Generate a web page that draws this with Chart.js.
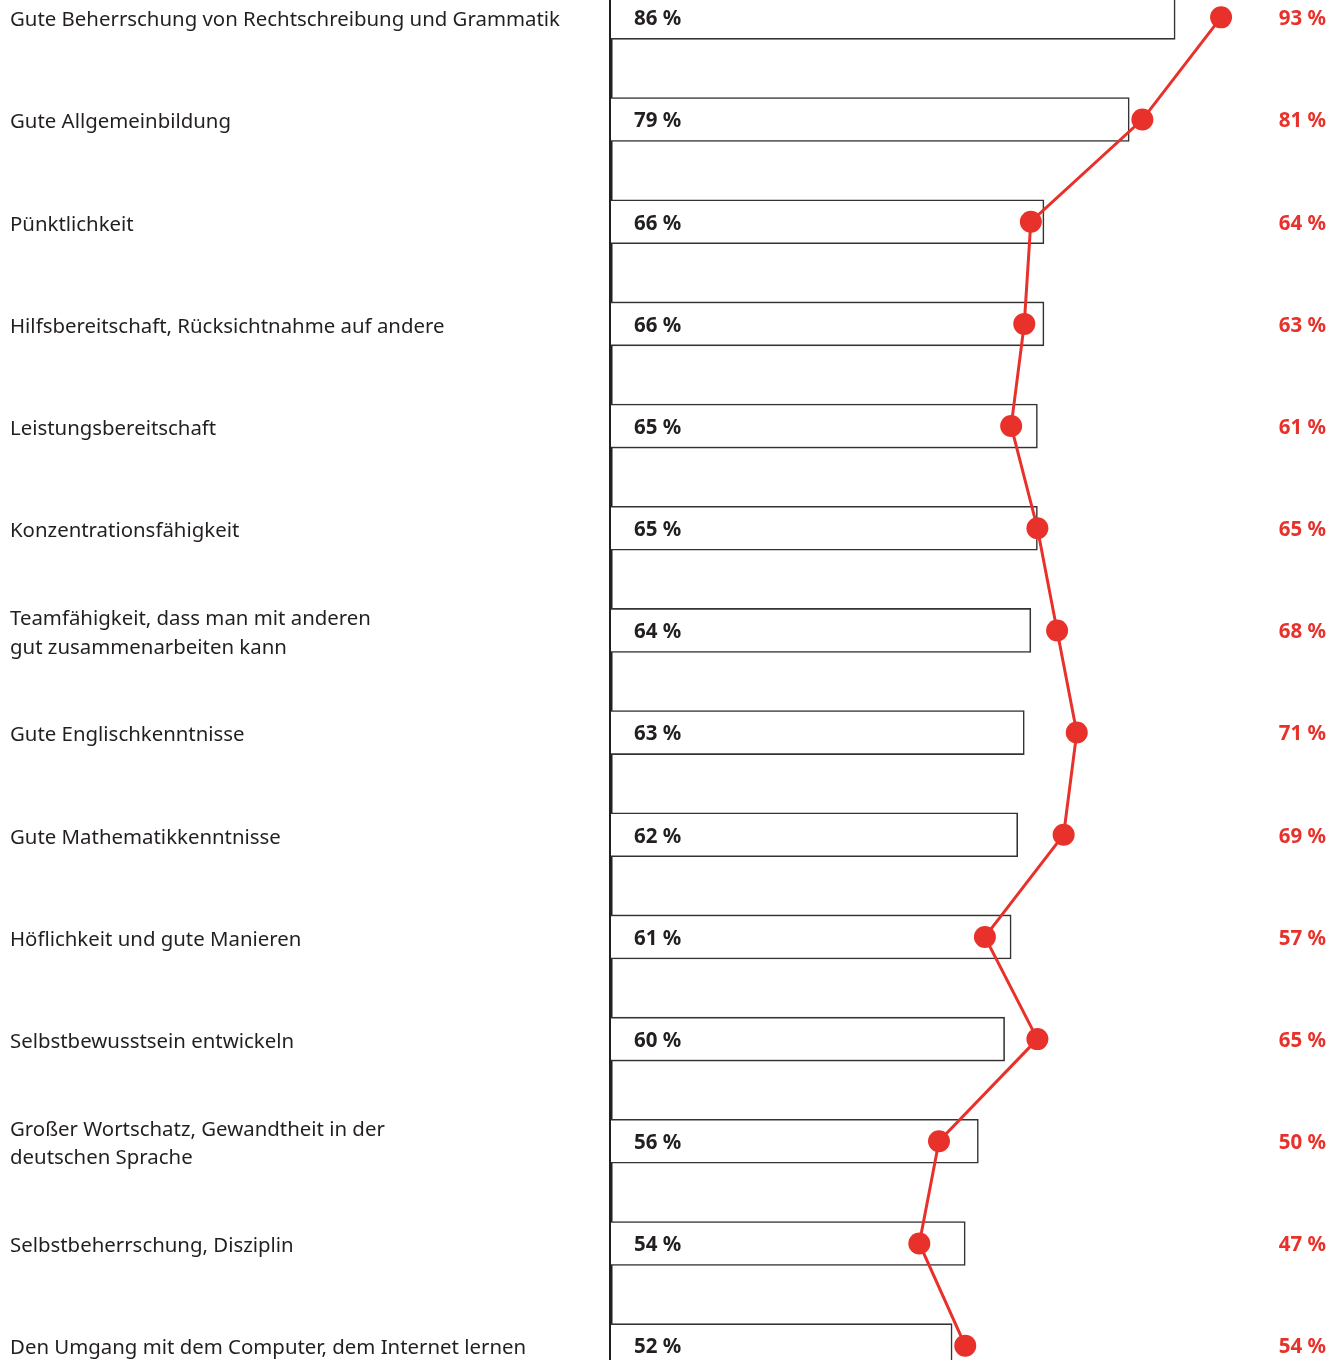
<!DOCTYPE html>
<html>
<head>
<meta charset="utf-8">
<script src="https://cdn.jsdelivr.net/npm/chart.js@4/dist/chart.umd.min.js"></script>
<style>
  html, body { margin: 0; padding: 0; background: #fff; overflow: hidden; }
  #wrap { position: absolute; left: 0; top: -48px; width: 1344px; height: 1459px; }
</style>
</head>
<body>
<div id="wrap"><canvas id="chart"></canvas></div>
<script>
const categories = [
  "Gute Beherrschung von Rechtschreibung und Grammatik",
  "Gute Allgemeinbildung",
  "Pünktlichkeit",
  "Hilfsbereitschaft, Rücksichtnahme auf andere",
  "Leistungsbereitschaft",
  "Konzentrationsfähigkeit",
  ["Teamfähigkeit, dass man mit anderen", "gut zusammenarbeiten kann"],
  "Gute Englischkenntnisse",
  "Gute Mathematikkenntnisse",
  "Höflichkeit und gute Manieren",
  "Selbstbewusstsein entwickeln",
  ["Großer Wortschatz, Gewandtheit in der", "deutschen Sprache"],
  "Selbstbeherrschung, Disziplin",
  "Den Umgang mit dem Computer, dem Internet lernen"
];
const barValues = [86, 79, 66, 66, 65, 65, 64, 63, 62, 61, 60, 56, 54, 52];
const lineValues = [93, 81, 64, 63, 61, 65, 68, 71, 69, 57, 65, 50, 47, 54];

const RED = '#e8312a';
const DARK = '#231f20';
const FONT = '"Noto Sans", sans-serif';

const valueLabels = {
  id: 'valueLabels',
  afterDatasetsDraw(chart) {
    const ctx = chart.ctx;
    const x = chart.scales.x;
    const y = chart.scales.y;
    ctx.save();
    ctx.textBaseline = 'middle';
    ctx.font = 'bold 20.5px ' + FONT;
    barValues.forEach((v, i) => {
      const py = y.getPixelForValue(i);
      ctx.fillStyle = DARK;
      ctx.textAlign = 'left';
      ctx.fillText(v + ' %', x.left + 23, py + 2);
      ctx.fillStyle = RED;
      ctx.textAlign = 'right';
      ctx.fillText(lineValues[i] + ' %', 1326, py + 2);
    });
    ctx.restore();
  }
};

new Chart(document.getElementById('chart'), {
  data: {
    labels: categories,
    datasets: [
      {
        type: 'line',
        data: lineValues,
        borderColor: RED,
        backgroundColor: RED,
        borderWidth: 3,
        tension: 0,
        pointRadius: 11,
        pointBackgroundColor: RED,
        pointBorderWidth: 0,
        order: 0
      },
      {
        type: 'bar',
        data: barValues,
        backgroundColor: '#fff',
        borderColor: '#333',
        borderWidth: 1.6,
        barThickness: 44,
        order: 1
      }
    ]
  },
  options: {
    indexAxis: 'y',
    responsive: true,
    maintainAspectRatio: false,
    animation: false,
    layout: { autoPadding: false, padding: { left: 10, right: 77, top: 0, bottom: 0 } },
    plugins: { legend: { display: false }, tooltip: { enabled: false } },
    scales: {
      x: {
        min: 0,
        max: 100,
        display: false
      },
      y: {
        grid: { display: false },
        border: { display: true, color: DARK, width: 3.5 },
        ticks: {
          crossAlign: 'far',
          color: DARK,
          font: { family: FONT, size: 20.4, lineHeight: 1.4 },
          padding: 0,
          labelOffset: 3
        },
        afterFit(scale) { scale.width = 601; }
      }
    }
  },
  plugins: [valueLabels]
});
</script>
</body>
</html>
